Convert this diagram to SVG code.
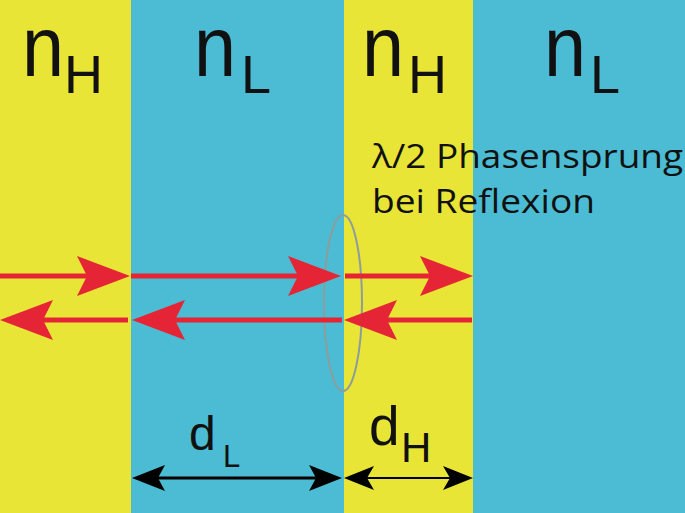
<svg xmlns="http://www.w3.org/2000/svg" width="685" height="513" viewBox="0 0 685 513">
<style>
.yel{fill:#e8e536}
.blu{fill:#4bbcd3}
.big{font-family:"Liberation Sans",Arial,sans-serif;font-size:86px;fill:#111}
.sub{font-family:"Liberation Sans",Arial,sans-serif;font-size:54px;fill:#111}
.note{font-family:"Open Sans","Liberation Sans",sans-serif;font-size:32px;fill:#111}
.ray{stroke:#e52535;stroke-width:5;fill:none}
.dim{stroke:#000;fill:none}
</style>
<defs>
<marker id="rh" viewBox="0 0 53 40" refX="38" refY="20" markerWidth="53" markerHeight="40" markerUnits="userSpaceOnUse" orient="auto">
<path d="M0,0 L53,20 L0,40 L10,20 Z" fill="#e52535"/>
</marker>
<marker id="bh" viewBox="0 0 33 26" refX="26" refY="13" markerWidth="33" markerHeight="26" markerUnits="userSpaceOnUse" orient="auto-start-reverse">
<path d="M0,0 L33,13 L0,26 L7,13 Z" fill="#000"/>
</marker>
<marker id="bh2" viewBox="0 0 30 24" refX="24" refY="12" markerWidth="30" markerHeight="24" markerUnits="userSpaceOnUse" orient="auto-start-reverse">
<path d="M0,0 L30,12 L0,24 L7,12 Z" fill="#000"/>
</marker>
</defs>
<g id="layers">
<rect id="layer-nH1" class="yel" x="0" y="0" width="131" height="513"/>
<rect id="layer-nL1" class="blu" x="131" y="0" width="213" height="513"/>
<rect id="layer-nH2" class="yel" x="344" y="0" width="129" height="513"/>
<rect id="layer-nL2" class="blu" x="473" y="0" width="212" height="513"/>
</g>
<g id="label-nH1"><text class="big" x="22" y="76"><tspan textLength="42" lengthAdjust="spacingAndGlyphs">n</tspan><tspan class="sub" x="64" y="93">H</tspan></text></g>
<g id="label-nL1"><text class="big" x="194" y="76"><tspan textLength="42" lengthAdjust="spacingAndGlyphs">n</tspan><tspan class="sub" x="241" y="93">L</tspan></text></g>
<g id="label-nH2"><text class="big" x="362" y="76"><tspan textLength="42" lengthAdjust="spacingAndGlyphs">n</tspan><tspan class="sub" x="408" y="93">H</tspan></text></g>
<g id="label-nL2"><text class="big" x="544" y="76"><tspan textLength="42" lengthAdjust="spacingAndGlyphs">n</tspan><tspan class="sub" x="590" y="93">L</tspan></text></g>
<g id="note">
<text class="note" x="372" y="168" textLength="311" lengthAdjust="spacingAndGlyphs">λ/2 Phasensprung</text>
<text class="note" x="372" y="213" textLength="223" lengthAdjust="spacingAndGlyphs">bei Reflexion</text>
</g>
<ellipse id="interface" cx="343" cy="303" rx="19" ry="88" fill="none" stroke="#8d9d9c" stroke-width="2"/>
<g id="connectors">
<line class="ray" x1="0" y1="276" x2="115" y2="276" marker-end="url(#rh)"/>
<line class="ray" x1="131" y1="276" x2="326" y2="276" marker-end="url(#rh)"/>
<line class="ray" x1="345" y1="276" x2="458" y2="276" marker-end="url(#rh)"/>
<line class="ray" x1="128" y1="320" x2="15" y2="320" marker-end="url(#rh)"/>
<line class="ray" x1="342" y1="320" x2="147" y2="320" marker-end="url(#rh)"/>
<line class="ray" x1="472" y1="320" x2="359" y2="320" marker-end="url(#rh)"/>
<line class="dim" stroke-width="3" x1="139" y1="478" x2="335" y2="478" marker-start="url(#bh)" marker-end="url(#bh)"/>
<line class="dim" stroke-width="2" x1="350" y1="478" x2="467" y2="478" marker-start="url(#bh2)" marker-end="url(#bh2)"/>
</g>
<g id="label-dL"><text class="big" style="font-size:48px" x="189" y="450">d<tspan class="sub" style="font-size:31px" x="223" y="467">L</tspan></text></g>
<g id="label-dH"><text class="big" style="font-size:55px" x="369" y="445">d<tspan class="sub" style="font-size:42px" x="401" y="462">H</tspan></text></g>
</svg>
